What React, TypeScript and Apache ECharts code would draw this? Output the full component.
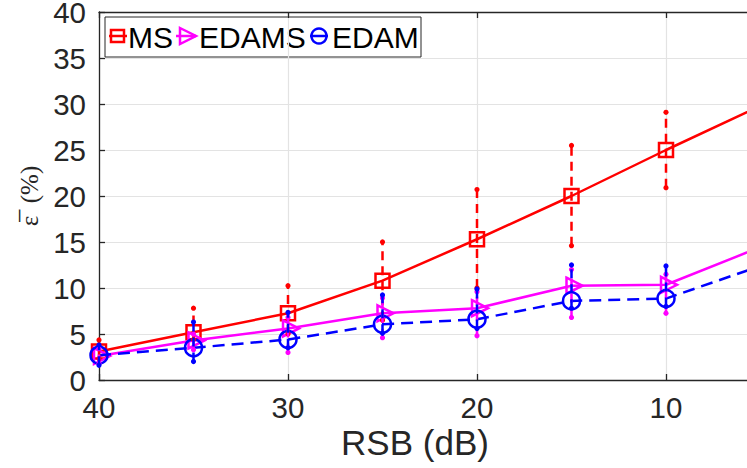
import React, { useEffect, useRef } from "react";
import * as echarts from "echarts";

const snr = [40, 35, 30, 25, 20, 15, 10, 5];
const msMean = [3.1, 5.2, 7.25, 10.8, 15.3, 20.0, 25.0, 29.8];
const edamsMean = [2.6, 4.3, 5.6, 7.25, 7.8, 10.25, 10.35, 14.45];
const edamMean = [2.7, 3.5, 4.4, 6.05, 6.6, 8.6, 8.85, 12.4];

const barX = [40, 35, 30, 25, 20, 15, 10];
const msLow = [2.3, 4.4, 5.0, 6.5, 10.0, 14.6, 20.9];
const msHigh = [4.35, 7.8, 10.25, 15.0, 20.7, 25.5, 29.1];
const edamsLow = [1.8, 3.3, 3.0, 4.6, 4.8, 6.8, 7.25];
const edamsHigh = [3.4, 5.0, 6.8, 8.9, 9.6, 12.0, 11.5];
const edamLow = [1.6, 2.0, 3.5, 5.07, 5.6, 7.8, 8.0];
const edamHigh = [3.8, 6.3, 7.35, 9.24, 9.9, 12.5, 12.4];

const xTicks = [40, 30, 20, 10];
const yTicks = [0, 5, 10, 15, 20, 25, 30, 35, 40];

const RED = "#ff0000";
const MAG = "#ff00ff";
const BLUE = "#0000ff";
const AX = "#262626";
const FONT = "'Liberation Sans', Arial, Helvetica, sans-serif";

function pts(ys: number[]) {
  return snr.map((x, i) => {
    const p: any = { value: [x, ys[i]] };
    if (x === 5) p.symbol = "none";
    return p;
  });
}

function errSeries(name: string, low: number[], high: number[], color: string, z: number) {
  return {
    type: "custom",
    name,
    z,
    silent: true,
    data: barX.map((x, i) => [x, low[i], high[i]]),
    renderItem: (params: any, api: any) => {
      const lo = api.coord([api.value(0), api.value(1)]);
      const hi = api.coord([api.value(0), api.value(2)]);
      return {
        type: "group",
        children: [
          {
            type: "line",
            shape: { x1: lo[0], y1: lo[1], x2: hi[0], y2: hi[1] },
            style: { stroke: color, lineWidth: 2.5, lineDash: [9, 6] },
          },
          { type: "circle", shape: { cx: lo[0], cy: lo[1], r: 2.6 }, style: { fill: color } },
          { type: "circle", shape: { cx: hi[0], cy: hi[1], r: 2.6 }, style: { fill: color } },
        ],
      };
    },
  };
}

const TRI = "path://M0,0 L16,8 L0,16 Z";

export default function App() {
  const ref = useRef<HTMLDivElement>(null);
  useEffect(() => {
    if (!ref.current) return;
    const chart = echarts.init(ref.current, undefined, { renderer: "svg" });
    const axisCommon = {
      type: "value",
      min: 0,
      max: 40,
      interval: 10,
      inverse: true,
    };
    const option: any = {
      animation: false,
      backgroundColor: "#ffffff",
      grid: { left: 99, top: 12, width: 756, height: 368, containLabel: false, outerBoundsMode: "none" },
      xAxis: [
        {
          ...axisCommon,
          position: "bottom",
          axisLine: { show: true, onZero: false, lineStyle: { color: AX, width: 1.3 } },
          axisTick: { show: true, inside: true, length: 6, lineStyle: { color: AX, width: 1.3 } },
          axisLabel: { show: true, fontSize: 29.5, fontFamily: FONT, color: AX, margin: 12, formatter: (v: number) => (xTicks.includes(v) ? String(v) : "") },
          splitLine: { show: true, lineStyle: { color: "#e3e3e3", width: 1.2 } },
        },
        {
          ...axisCommon,
          position: "top",
          axisLine: { show: true, onZero: false, lineStyle: { color: AX, width: 1.3 } },
          axisTick: { show: true, inside: true, length: 6, lineStyle: { color: AX, width: 1.3 } },
          axisLabel: { show: false },
          splitLine: { show: false },
        },
      ],
      yAxis: {
        type: "value",
        min: 0,
        max: 40,
        interval: 5,
        name: "ε\u0305  (%)",
        nameLocation: "middle",
        nameGap: 56,
        nameRotate: 90,
        nameTextStyle: { fontSize: 25, fontFamily: "'Liberation Serif', 'DejaVu Serif', serif", color: AX },
        axisLine: { show: true, onZero: false, lineStyle: { color: AX, width: 1.3 } },
        axisTick: { show: true, inside: true, length: 6, lineStyle: { color: AX, width: 1.3 } },
        axisLabel: { fontSize: 29.5, lineHeight: 22, padding: [5, 0, 0, 0], fontFamily: FONT, color: AX, margin: 13, formatter: (v: number) => (yTicks.includes(v) ? String(v) : "") },
        splitLine: { show: true, lineStyle: { color: "#e3e3e3", width: 1.2 } },
      },
      series: [
        {
          type: "line",
          name: "MS",
          z: 3,
          data: pts(msMean),
          symbol: "rect",
          symbolSize: 14,
          lineStyle: { color: RED, width: 2.5 },
          itemStyle: { color: "rgba(0,0,0,0)", borderColor: RED, borderWidth: 2.5 },
        },
        {
          type: "line",
          name: "EDAMS",
          z: 4,
          data: pts(edamsMean),
          symbol: TRI,
          symbolSize: [16, 16],
          symbolOffset: [3, 0],
          lineStyle: { color: MAG, width: 2.5 },
          itemStyle: { color: "rgba(0,0,0,0)", borderColor: MAG, borderWidth: 2.5 },
        },
        {
          type: "line",
          name: "EDAM",
          z: 5,
          data: pts(edamMean),
          symbol: "circle",
          symbolSize: 17,
          lineStyle: { color: BLUE, width: 2.5, type: [12, 7] },
          itemStyle: { color: "rgba(0,0,0,0)", borderColor: BLUE, borderWidth: 2.5 },
        },
        errSeries("MS err", msLow, msHigh, RED, 6),
        errSeries("EDAMS err", edamsLow, edamsHigh, MAG, 7),
        errSeries("EDAM err", edamLow, edamHigh, BLUE, 8),
      ],
      graphic: [
        {
          type: "text",
          x: 415,
          y: 442,
          style: { text: "RSB (dB)", fontSize: 35, fontFamily: FONT, fill: AX, align: "center", verticalAlign: "middle" },
          z: 50,
        },
        {
          type: "group",
          z: 100,
          children: [
            { type: "rect", shape: { x: 105, y: 17, width: 316, height: 40 }, style: { fill: "#ffffff", stroke: AX, lineWidth: 1 } },
            { type: "line", shape: { x1: 109, y1: 36, x2: 127, y2: 36 }, style: { stroke: RED, lineWidth: 2.5 } },
            { type: "rect", shape: { x: 111, y: 30, width: 13, height: 12 }, style: { fill: "none", stroke: RED, lineWidth: 2.5 } },
            { type: "text", x: 128, y: 37, style: { text: "MS", fontSize: 30, fontFamily: FONT, fill: "#000", verticalAlign: "middle" } },
            { type: "line", shape: { x1: 176, y1: 36, x2: 196, y2: 36 }, style: { stroke: MAG, lineWidth: 2.5 } },
            { type: "polygon", shape: { points: [[180, 28], [196, 36], [180, 44]] }, style: { fill: "none", stroke: MAG, lineWidth: 2.5 } },
            { type: "text", x: 199, y: 37, style: { text: "EDAMS", fontSize: 30, fontFamily: FONT, fill: "#000", verticalAlign: "middle" } },
            { type: "line", shape: { x1: 310, y1: 36, x2: 328, y2: 36 }, style: { stroke: BLUE, lineWidth: 2.5 } },
            { type: "circle", shape: { cx: 319, cy: 36, r: 7.5 }, style: { fill: "none", stroke: BLUE, lineWidth: 2.5 } },
            { type: "text", x: 332, y: 37, style: { text: "EDAM", fontSize: 30, fontFamily: FONT, fill: "#000", verticalAlign: "middle" } },
          ],
        },
      ],
    };
    chart.setOption(option);
    return () => chart.dispose();
  }, []);
  return (
    <div style={{ position: "absolute", left: 0, top: 0, width: 747, height: 468, overflow: "hidden", background: "#fff" }}>
      <div ref={ref} style={{ width: 860, height: 468 }} />
    </div>
  );
}
